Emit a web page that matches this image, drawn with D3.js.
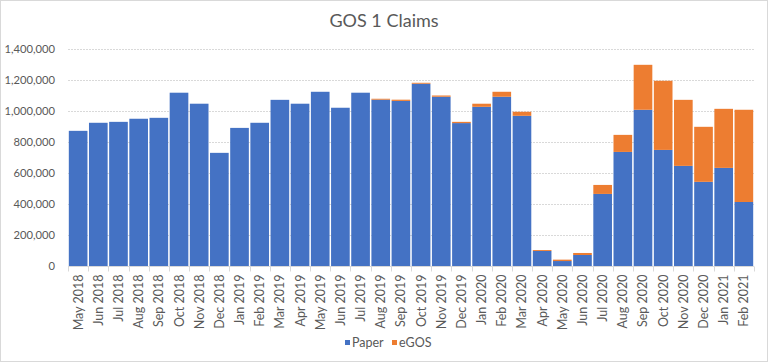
<!DOCTYPE html>
<html>
<head>
    <title>GOS 1 Claims</title>
    <style>
        html, body {
            margin: 0;
            padding: 0;
            background-color: #ffffff;
            overflow: hidden;
        }
        text {
            font-family: Lato, "Open Sans", sans-serif;
            fill: #595959;
        }
    </style>
</head>
<body>
    <div id="container"></div>

    <script src="https://d3js.org/d3.v7.min.js"></script>

    <script>
        // month labels along the x axis
        var months = ["May 2018", "Jun 2018", "Jul 2018", "Aug 2018", "Sep 2018", "Oct 2018", "Nov 2018", "Dec 2018",
            "Jan 2019", "Feb 2019", "Mar 2019", "Apr 2019", "May 2019", "Jun 2019", "Jul 2019", "Aug 2019",
            "Sep 2019", "Oct 2019", "Nov 2019", "Dec 2019", "Jan 2020", "Feb 2020", "Mar 2020", "Apr 2020",
            "May 2020", "Jun 2020", "Jul 2020", "Aug 2020", "Sep 2020", "Oct 2020", "Nov 2020", "Dec 2020",
            "Jan 2021", "Feb 2021"];

        // paper claims per month
        var paper = [872000, 924000, 930000, 950000, 956000, 1118000, 1047000, 730000,
            891000, 924000, 1072000, 1047000, 1124000, 1021000, 1118000, 1073000,
            1065000, 1176000, 1092000, 922000, 1027000, 1092000, 969000, 97000,
            32000, 71000, 465000, 736000, 1008000, 749000, 646000, 543000,
            633000, 413000];

        // eGOS claims per month
        var egos = [0, 0, 0, 0, 0, 0, 0, 0,
            0, 0, 0, 0, 0, 0, 0, 6000,
            8000, 6000, 8000, 8000, 20000, 32000, 26000, 6000,
            9000, 13000, 58000, 110000, 290000, 446000, 426000, 355000,
            381000, 595000];

        var yTicks = [0, 200000, 400000, 600000, 800000, 1000000, 1200000, 1400000];

        var series = ["Paper", "eGOS"];
        var colors = { "Paper": "#4472C4", "eGOS": "#ED7D31" };

        var width = 768, height = 362;
        var margin = { top: 49, right: 14, bottom: 96, left: 68 };

        var svg = d3.select("div#container")
            .append("svg")
            .attr("width", width)
            .attr("height", height);

        // chart border
        svg.append("rect")
            .attr("x", 0.5)
            .attr("y", 0.5)
            .attr("width", width - 1)
            .attr("height", height - 1)
            .style("fill", "#ffffff")
            .style("stroke", "#d9d9d9");

        var x = d3.scaleBand()
            .domain(months)
            .range([margin.left, width - margin.right])
            .paddingInner(0.075)
            .paddingOuter(0.04);

        var y = d3.scaleLinear()
            .domain([0, 1400000])
            .range([height - margin.bottom, margin.top]);

        // gridlines
        svg.append("g")
            .selectAll("line")
            .data(yTicks.slice(1))
            .enter().append("line")
            .attr("x1", margin.left)
            .attr("x2", width - margin.right)
            .attr("y1", function (d) { return Math.round(y(d)) + 0.5; })
            .attr("y2", function (d) { return Math.round(y(d)) + 0.5; })
            .style("stroke", "#d9d9d9")
            .style("stroke-dasharray", "2,1");

        // stacked bars
        var table = months.map(function (m, i) {
            return { month: m, Paper: paper[i], eGOS: egos[i] };
        });
        var stacked = d3.stack().keys(series)(table);

        svg.append("g")
            .selectAll("g")
            .data(stacked)
            .enter().append("g")
            .style("fill", function (d) { return colors[d.key]; })
            .selectAll("rect")
            .data(function (d) { return d; })
            .enter().append("rect")
            .attr("x", function (d) { return x(d.data.month); })
            .attr("width", x.bandwidth())
            .attr("y", function (d) { return y(d[1]); })
            .attr("height", function (d) { return y(d[0]) - y(d[1]); });

        // y axis labels
        var yAxis = svg.append("g")
            .attr("transform", "translate(" + (margin.left - 10) + ",0)")
            .call(d3.axisLeft(y).tickValues(yTicks).tickSize(0).tickFormat(d3.format(",")));
        yAxis.select(".domain").remove();
        yAxis.selectAll("text")
            .style("font-size", "11.2px")
            .style("font-family", "Lato, sans-serif")
            .style("fill", "#595959");

        // x axis line and ticks between categories
        var base = Math.round(y(0)) + 0.5;
        svg.append("line")
            .attr("x1", margin.left)
            .attr("x2", width - margin.right)
            .attr("y1", base)
            .attr("y2", base)
            .style("stroke", "#d9d9d9");

        var step = x.step();
        var bounds = months.map(function (m) { return x(m) - step * x.paddingInner() / 2; });
        bounds.push(width - margin.right);
        bounds[0] = margin.left;
        svg.append("g")
            .selectAll("line")
            .data(bounds)
            .enter().append("line")
            .attr("x1", function (d) { return Math.round(d) + 0.5; })
            .attr("x2", function (d) { return Math.round(d) + 0.5; })
            .attr("y1", base)
            .attr("y2", base + 5)
            .style("stroke", "#d9d9d9");

        // rotated month labels
        svg.append("g")
            .selectAll("text")
            .data(months)
            .enter().append("text")
            .attr("transform", function (d) {
                return "translate(" + (x(d) + x.bandwidth() / 2 + 4.5) + "," + (base + 8) + ") rotate(-90)";
            })
            .attr("text-anchor", "end")
            .style("font-size", "12.5px")
            .text(function (d) { return d; });

        // title
        svg.append("text")
            .attr("x", width / 2)
            .attr("y", 27)
            .attr("text-anchor", "middle")
            .style("font-size", "18px")
            .text("GOS 1 Claims");

        // legend
        var legend = svg.append("g")
            .selectAll("g")
            .data(series)
            .enter().append("g")
            .attr("transform", function (d, i) { return "translate(" + (345 + i * 47) + ",340)"; });
        legend.append("rect")
            .attr("width", 5)
            .attr("height", 5)
            .style("fill", function (d) { return colors[d]; });
        legend.append("text")
            .attr("x", 7)
            .attr("y", 7)
            .style("font-size", "12.5px")
            .text(function (d) { return d; });
    </script>
</body>
</html>
